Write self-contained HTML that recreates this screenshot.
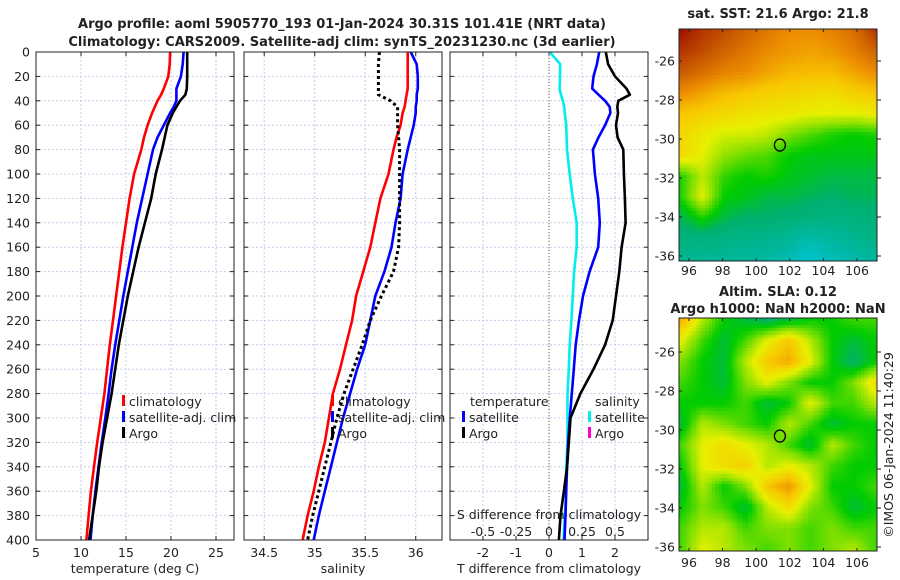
<!DOCTYPE html>
<html><head><meta charset="utf-8">
<style>
html,body{margin:0;padding:0;background:#fff;}
#wrap{position:relative;width:900px;height:580px;overflow:hidden;font-family:"DejaVu Sans","Liberation Sans",sans-serif;}
svg text{font-family:"DejaVu Sans","Liberation Sans",sans-serif;}
canvas{position:absolute;}
</style></head>
<body>
<div id="wrap">
<canvas id="sstmap" style="left:679px;top:29px;width:198px;height:232px" width="198" height="232"></canvas>
<canvas id="slamap" style="left:679px;top:318px;width:198px;height:233px" width="198" height="233"></canvas>
<svg id="fig" width="900" height="580" style="position:absolute;left:0;top:0"></svg>
</div>
<script>
// ---- profile data ----
const depths = [0,10,20,30,35,40,45,50,60,70,80,100,120,140,160,180,200,220,240,260,280,300,320,340,360,380,400];
const tempClim = [19.9,19.85,19.7,19.2,18.9,18.5,18.2,17.9,17.4,17.0,16.7,15.9,15.4,15.0,14.6,14.25,13.9,13.55,13.2,12.9,12.6,12.2,11.8,11.45,11.1,10.85,10.6];
const tempSat = [21.4,21.3,21.1,20.6,20.6,20.6,20.3,19.9,19.2,18.5,18.0,17.4,16.8,16.2,15.7,15.2,14.7,14.25,13.8,13.4,13.07,12.7,12.3,11.95,11.6,11.3,11.05];
const tempArgo = [21.8,21.8,21.8,21.75,21.6,21.0,20.6,20.2,19.6,19.3,19.0,18.3,17.8,17.1,16.4,15.8,15.2,14.7,14.2,13.8,13.4,12.9,12.4,12.0,11.7,11.3,10.9];
const salClim = [35.92,35.92,35.92,35.92,35.91,35.90,35.89,35.87,35.85,35.81,35.78,35.73,35.65,35.6,35.55,35.48,35.41,35.37,35.31,35.25,35.18,35.14,35.1,35.04,34.99,34.93,34.88];
const salSat = [35.95,36.01,36.02,36.02,36.01,36.01,36.0,36.0,35.98,35.95,35.92,35.87,35.85,35.8,35.76,35.69,35.6,35.55,35.5,35.42,35.35,35.28,35.22,35.16,35.1,35.04,34.99];
const salArgo = [35.64,35.63,35.63,35.63,35.63,35.75,35.82,35.82,35.82,35.83,35.84,35.84,35.84,35.84,35.83,35.78,35.66,35.55,35.47,35.38,35.29,35.22,35.16,35.1,35.04,34.98,34.93];
const tDiffSat = [1.52,1.45,1.35,1.31,1.5,1.7,1.84,1.86,1.7,1.5,1.33,1.39,1.49,1.54,1.49,1.23,1.03,0.91,0.81,0.75,0.69,0.63,0.58,0.55,0.52,0.5,0.47];
const tDiffArgo = [1.72,1.79,2.0,2.35,2.45,2.1,2.07,2.09,2.03,2.08,2.25,2.27,2.3,2.32,2.2,2.13,2.03,1.93,1.7,1.35,0.95,0.65,0.6,0.55,0.45,0.35,0.3];
const sDiffSat = [0.005,0.085,0.083,0.08,0.09,0.105,0.115,0.12,0.13,0.133,0.136,0.157,0.18,0.21,0.21,0.19,0.18,0.17,0.157,0.15,0.14,0.14,0.14,0.13,0.13,0.12,0.11];
const depthTicks = [0,20,40,60,80,100,120,140,160,180,200,220,240,260,280,300,320,340,360,380,400];
const tempTicks = [5,10,15,20,25];
const salTicks = [34.5,35,35.5,36];
const tDiffTicks = [-2,-1,0,1,2];
const sDiffTicks = [-0.5,-0.25,0,0.25,0.5];
const sDiffTickLabels = ["-0.5","-0.25","0","0.25","0.5"];
// ---- map data (0..1 colour index) ----
const sstGrid = [
[1.0,0.95,0.92,0.88,0.84,0.8,0.8,0.82,0.86,0.95],
[0.95,0.92,0.88,0.84,0.8,0.78,0.76,0.78,0.82,0.88],
[0.9,0.86,0.82,0.8,0.76,0.73,0.72,0.72,0.76,0.8],
[0.8,0.76,0.72,0.7,0.68,0.67,0.66,0.65,0.68,0.7],
[0.7,0.68,0.66,0.64,0.63,0.62,0.6,0.6,0.6,0.62],
[0.66,0.62,0.58,0.58,0.56,0.5,0.46,0.42,0.4,0.42],
[0.66,0.6,0.52,0.48,0.46,0.4,0.38,0.38,0.38,0.38],
[0.42,0.56,0.44,0.4,0.42,0.38,0.36,0.34,0.34,0.34],
[0.42,0.6,0.4,0.38,0.34,0.34,0.32,0.3,0.32,0.32],
[0.32,0.42,0.34,0.3,0.3,0.28,0.26,0.24,0.26,0.28],
[0.26,0.26,0.24,0.22,0.22,0.18,0.12,0.16,0.2,0.24],
[0.2,0.18,0.18,0.16,0.14,0.1,0.04,0.1,0.12,0.16]];
const slaGrid = [
[0.75,0.55,0.4,0.35,0.3,0.35,0.4,0.4,0.45,0.45],
[0.6,0.45,0.35,0.45,0.6,0.7,0.55,0.4,0.35,0.4],
[0.5,0.4,0.35,0.55,0.7,0.75,0.6,0.4,0.3,0.4],
[0.45,0.4,0.35,0.5,0.6,0.5,0.4,0.4,0.5,0.65],
[0.4,0.4,0.4,0.45,0.35,0.4,0.6,0.45,0.45,0.55],
[0.35,0.55,0.5,0.45,0.4,0.55,0.45,0.35,0.4,0.4],
[0.45,0.6,0.65,0.6,0.55,0.45,0.35,0.55,0.45,0.4],
[0.4,0.6,0.65,0.68,0.55,0.6,0.55,0.45,0.4,0.4],
[0.35,0.55,0.4,0.5,0.7,0.78,0.6,0.4,0.4,0.45],
[0.4,0.5,0.45,0.35,0.55,0.65,0.5,0.45,0.35,0.4],
[0.45,0.55,0.55,0.45,0.5,0.5,0.45,0.5,0.45,0.45],
[0.45,0.6,0.55,0.5,0.45,0.5,0.45,0.5,0.55,0.45]];
const lonTicks = [96,98,100,102,104,106];
const latTicks = [-26,-28,-30,-32,-34,-36];
const argoLon = [101.41];
const argoLat = [-30.31];

const NS='http://www.w3.org/2000/svg';
const svg=document.getElementById('fig');
function mk(tag,attrs,parent){const e=document.createElementNS(NS,tag);for(const k in attrs)e.setAttribute(k,attrs[k]);(parent||svg).appendChild(e);return e;}
function txt(s,x,y,anchor,size,weight,parent){const t=mk('text',{x:x,y:y,'text-anchor':anchor||'middle','font-size':size||12,'font-weight':weight||'normal',fill:'#222'},parent);t.textContent=s;return t;}

const yTop=52,yBot=540;
function yD(d){return yTop+(d/400)*(yBot-yTop);}
function lin(d0,d1,p0,p1){return v=>p0+(v-d0)/(d1-d0)*(p1-p0);}

const panels=[
 {name:'temperature',x0:36,x1:234,f:lin(5,27,36,234),ticks:tempTicks,labels:tempTicks.map(String),xlabel:'temperature (deg C)'},
 {name:'salinity',x0:244,x1:442,f:lin(34.3,36.26,244,442),ticks:salTicks,labels:salTicks.map(String),xlabel:'salinity'},
 {name:'difference',x0:450,x1:648,f:lin(-3,3,450,648),ticks:tDiffTicks,labels:tDiffTicks.map(String),xlabel:'T difference from climatology'}
];
panels.forEach((p,i)=>{
  const g=mk('g',{});
  
  
  p.g=g;
  p.ticks.forEach(t=>{const x=p.f(t);
    const l=mk('line',{x1:x,x2:x,y1:yTop,y2:yBot,stroke:'#c4cbe8','stroke-width':1,'stroke-dasharray':'2,2'},g);
    });
  depthTicks.forEach(d=>{const y=yD(d);
    if(d>0&&d<400){const l=mk('line',{x1:p.x0,x2:p.x1,y1:y,y2:y,stroke:'#c4cbe8','stroke-width':1,'stroke-dasharray':'2,2'},g);
    }
    mk('line',{x1:p.x0,x2:p.x0+4,y1:y,y2:y,stroke:'#222'},g);
    mk('line',{x1:p.x1,x2:p.x1-4,y1:y,y2:y,stroke:'#222'},g);
    if(i===0){const t=txt(String(d),30,y+4.5,'end',12.5,'normal',g);}
  });
  p.ticks.forEach((t,k)=>{const x=p.f(t);
    mk('line',{x1:x,x2:x,y1:yBot,y2:yBot-4,stroke:'#222'},g);
    mk('line',{x1:x,x2:x,y1:yTop,y2:yTop+4,stroke:'#222'},g);
    const tl=txt(p.labels[k],x,557,'middle',12.5,'normal',g);
    });
  const xl=txt(p.xlabel,(p.x0+p.x1)/2,573,'middle',12.5,'normal',g);
  
});
function series(p,vals,color,name,dash,fx){
  const f=fx||p.f;
  const pts=depths.map((d,k)=>f(vals[k]).toFixed(1)+','+yD(d).toFixed(1)).join(' ');
  const a={points:pts,fill:'none',stroke:color,'stroke-width':dash?3:2.6,'stroke-linejoin':'round'};
  if(dash)a['stroke-dasharray']=dash;
  const e=mk('polyline',a,p.g);
  
  
}
{const p=panels[2];const x=p.f(0);const l=mk('line',{x1:x,x2:x,y1:yTop,y2:yBot,stroke:'#6b6b30','stroke-width':1,'stroke-dasharray':'1,2'},p.g);
}
series(panels[0],tempClim,'#ff0000','temp-climatology-line');
series(panels[0],tempSat,'#0000ff','temp-satellite-line');
series(panels[0],tempArgo,'#000000','temp-argo-line');
series(panels[1],salClim,'#ff0000','sal-climatology-line');
series(panels[1],salSat,'#0000ff','sal-satellite-line');
series(panels[1],salArgo,'#000000','sal-argo-line','3,3');
const sfx=lin(-0.75,0.75,450,648);
series(panels[2],sDiffSat,'#00eeee','s-diff-satellite-line',null,sfx);
series(panels[2],tDiffSat,'#0000ff','t-diff-satellite-line');
series(panels[2],tDiffArgo,'#000000','t-diff-argo-line');
{const p=panels[2];
 const t=txt('S difference from climatology',549,519,'middle',12.5,'normal',p.g);
 sDiffTicks.forEach((v,k)=>{const l=txt(sDiffTickLabels[k],sfx(v),536,'middle',12.5,'normal',p.g);});}
panels.forEach(p=>{const r=mk('rect',{x:p.x0,y:yTop,width:p.x1-p.x0,height:yBot-yTop,fill:'none',stroke:'#222','stroke-width':1},p.g);
 });
function legend(parent,x,y,color,label){const g=mk('g',{},parent);
 
 mk('rect',{x:x,y:y-11,width:3,height:11,fill:color},g);txt(label,x+7,y,'start',12.5,'normal',g);}
legend(panels[0].g,122,406,'#ff0000','climatology');
legend(panels[0].g,122,422,'#0000ff','satellite-adj. clim');
legend(panels[0].g,122,438,'#000000','Argo');
legend(panels[1].g,331,406,'#ff0000','climatology');
legend(panels[1].g,331,422,'#0000ff','satellite-adj. clim');
legend(panels[1].g,331,438,'#000000','Argo');
{const t=txt('temperature',470,406,'start',12.5,'normal',panels[2].g);
 const s=txt('salinity',595,406,'start',12.5,'normal',panels[2].g);}
legend(panels[2].g,462,422,'#0000ff','satellite');
legend(panels[2].g,462,438,'#000000','Argo');
legend(panels[2].g,588,422,'#00eeee','satellite');
legend(panels[2].g,588,438,'#ff00cc','Argo');
{const t1=txt('Argo profile: aoml 5905770_193 01-Jan-2024 30.31S 101.41E (NRT data)',342,28,'middle',13,'bold');
 
 const t2=txt('Climatology: CARS2009. Satellite-adj clim: synTS_20231230.nc (3d earlier)',342,46,'middle',13,'bold');
 }

// ---- maps ----
const stops=[[0,[0,200,224]],[0.15,[0,184,160]],[0.3,[0,176,112]],[0.4,[0,204,0]],[0.5,[128,224,0]],[0.6,[232,240,0]],[0.7,[248,200,0]],[0.8,[236,140,0]],[0.9,[200,90,0]],[1,[160,16,0]]];
function cmap(v){v=Math.max(0,Math.min(1,v));for(let i=1;i<stops.length;i++){if(v<=stops[i][0]){const a=stops[i-1],b=stops[i];const t=(v-a[0])/(b[0]-a[0]);return a[1].map((c,k)=>Math.round(c+(b[1][k]-c)*t));}}return stops[stops.length-1][1];}
function drawMap(id,grid,res){
  const rows=grid.length,cols=grid[0].length;
  const cv=document.getElementById(id);const ctx=cv.getContext('2d');
  const W=res[0],H=res[1];
  const small=document.createElement('canvas');small.width=W;small.height=H;const sc=small.getContext('2d');
  const im=sc.createImageData(W,H);
  for(let y=0;y<H;y++)for(let x=0;x<W;x++){
    const gy=y/(H-1)*(rows-1),gx=x/(W-1)*(cols-1);
    const y0=Math.floor(gy),x0=Math.floor(gx),y1=Math.min(rows-1,y0+1),x1=Math.min(cols-1,x0+1);
    const fy=gy-y0,fx=gx-x0;
    const v=grid[y0][x0]*(1-fx)*(1-fy)+grid[y0][x1]*fx*(1-fy)+grid[y1][x0]*(1-fx)*fy+grid[y1][x1]*fx*fy;
    const c=cmap(v);const o=(y*W+x)*4;im.data[o]=c[0];im.data[o+1]=c[1];im.data[o+2]=c[2];im.data[o+3]=255;}
  sc.putImageData(im,0,0);
  ctx.imageSmoothingEnabled=false;ctx.drawImage(small,0,0,cv.width,cv.height);
}
drawMap('sstmap',sstGrid,[60,70]);
drawMap('slamap',slaGrid,[60,70]);

const maps=[
 {name:'sst-map',x0:679,x1:877,y0:29,y1:261,lat:lin(-26,-36,61,256),lab:275,titles:[['sat. SST: 21.6 Argo: 21.8',18]]},
 {name:'sla-map',x0:679,x1:877,y0:318,y1:551,lat:lin(-26,-36,352,547),lab:567,titles:[['Altim. SLA: 0.12',296],['Argo h1000: NaN h2000: NaN',313]]}
];
const lonF=lin(96,106,689,857);
maps.forEach(m=>{const g=mk('g',{});
 mk('rect',{x:m.x0,y:m.y0,width:m.x1-m.x0,height:m.y1-m.y0,fill:'none',stroke:'#222'},g);
 lonTicks.forEach(l=>{const x=lonF(l);mk('line',{x1:x,x2:x,y1:m.y1,y2:m.y1-3,stroke:'#222'},g);mk('line',{x1:x,x2:x,y1:m.y0,y2:m.y0+3,stroke:'#222'},g);
  const t=txt(String(l),x,m.lab,'middle',12.5,'normal',g);});
 latTicks.forEach(l=>{const y=m.lat(l);mk('line',{x1:m.x0,x2:m.x0+3,y1:y,y2:y,stroke:'#222'},g);mk('line',{x1:m.x1,x2:m.x1+4,y1:y,y2:y,stroke:'#222'},g);
  const t=txt(String(l),675,y+4.5,'end',12.5,'normal',g);});
 const c=mk('ellipse',{cx:lonF(argoLon[0]),cy:m.lat(argoLat[0]),rx:5.5,ry:6,fill:'none',stroke:'#000','stroke-width':1.3},g);
 
 m.titles.forEach(tt=>{const t=txt(tt[0],778,tt[1],'middle',13,'bold',g);});
});
{const t=txt('©IMOS 06-Jan-2024 11:40:29',0,0,'middle',12.5,'normal');
 t.setAttribute('transform','translate(893,445) rotate(-90)');
 }
</script>
</body></html>
